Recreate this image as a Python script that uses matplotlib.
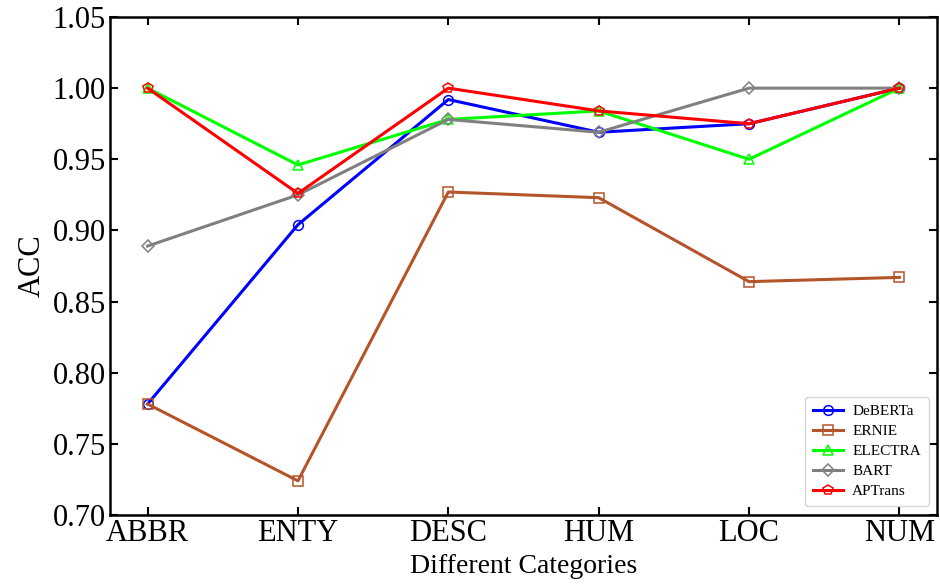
import matplotlib
matplotlib.use("Agg")
import matplotlib.pyplot as plt

plt.rcParams['font.family'] = ['Liberation Serif', 'DejaVu Serif']

categories = ["ABBR", "ENTY", "DESC", "HUM", "LOC", "NUM"]
deberta = [0.778, 0.904, 0.992, 0.969, 0.975, 1.000]
ernie = [0.778, 0.724, 0.927, 0.923, 0.864, 0.867]
electra = [1.000, 0.946, 0.978, 0.984, 0.950, 1.000]
bart = [0.889, 0.925, 0.978, 0.969, 1.000, 1.000]
aptrans = [1.000, 0.926, 1.000, 0.984, 0.975, 1.000]

series = [
    ("DeBERTa", deberta, "#0000ff", "o"),
    ("ERNIE", ernie, "#b5542a", "s"),
    ("ELECTRA", electra, "#00ff00", "^"),
    ("BART", bart, "#808080", "D"),
    ("APTrans", aptrans, "#ff0000", "p"),
]

fig = plt.figure(figsize=(9.4, 5.85), dpi=100)
ax = fig.add_axes([110/940, 1-515/585, (937-110)/940, (515-17)/585])

x = list(range(len(categories)))
for name, vals, c, m in series:
    ms = 7 if m != "D" else 6.5
    ax.plot(x, vals, color=c, marker=m, ms=ms, mfc="none", mec=c, mew=1.1,
            lw=2.2, label=name)

ax.set_xlim(-0.25, 5.25)
ax.set_ylim(0.70, 1.05)
ax.set_xticks(x)
ax.set_xticklabels(categories)
ax.set_yticks([0.70, 0.75, 0.80, 0.85, 0.90, 0.95, 1.00, 1.05])
ax.yaxis.set_major_formatter(matplotlib.ticker.FormatStrFormatter('%.2f'))
ax.tick_params(direction="in", top=True, right=True, length=6, width=1.5,
               labelsize=22, pad=3)
for s in ax.spines.values():
    s.set_linewidth(1.8)
ax.set_xlabel("Different Categories", fontsize=20, labelpad=4)
ax.set_ylabel("ACC", fontsize=22, labelpad=4)

leg = ax.legend(loc="lower right", fontsize=11, frameon=True, fancybox=True,
                edgecolor="#cccccc", handlelength=2.0, borderpad=0.5,
                labelspacing=0.42, handletextpad=0.6, borderaxespad=0,
                bbox_to_anchor=(0.99, 0.018))

fig.savefig("out.png", dpi=100)
